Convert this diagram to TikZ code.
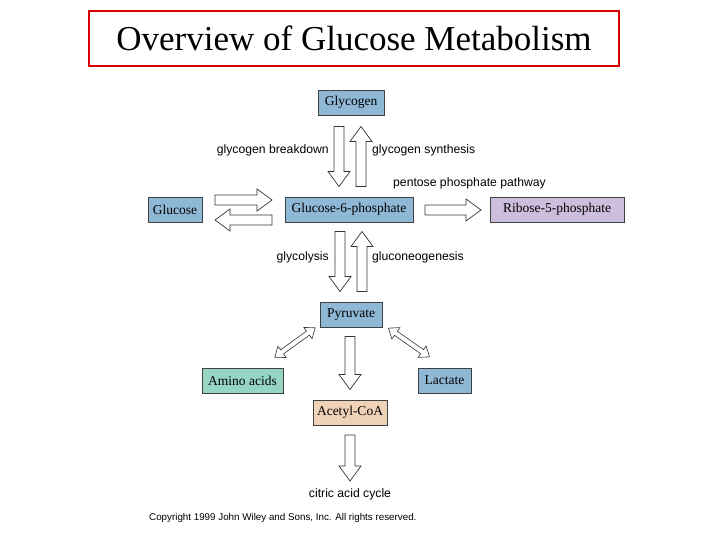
\documentclass[tikz,border=0pt]{standalone}
\usepackage{fontspec}
\setmainfont{Liberation Serif}
\setsansfont{Liberation Sans}
\definecolor{bl}{RGB}{143,184,214}
\definecolor{vi}{RGB}{205,190,222}
\definecolor{gr}{RGB}{150,212,196}
\definecolor{pe}{RGB}{240,210,185}
\tikzset{
 box/.style={draw=black!75,line width=0.8pt,minimum height=25pt,inner sep=0pt,font=\fontsize{13.5}{15}\selectfont},
 arr/.style={draw=black!80,fill=white,line width=0.7pt,line join=miter},
 lab/.style={font=\sffamily\fontsize{12.2}{14}\selectfont,inner sep=0pt}
}
% single block arrow: centre x, centre y, angle, length
\newcommand\barr[4]{\draw[arr,shift={(#1,#2)},rotate=#3]
 ({-#4/2},-5) -- ({#4/2-15},-5) -- ({#4/2-15},-11) -- ({#4/2},0) -- ({#4/2-15},11) -- ({#4/2-15},5) -- ({-#4/2},5) -- cycle;}
\newcommand\darr[4]{\draw[arr,line width=0.6pt,shift={(#1,#2)},rotate=#3]
 ({-#4/2},0) -- ({-#4/2+9},-7) -- ({-#4/2+9},-2.5) -- ({#4/2-9},-2.5) -- ({#4/2-9},-7) -- ({#4/2},0) -- ({#4/2-9},7) -- ({#4/2-9},2.5) -- ({-#4/2+9},2.5) -- ({-#4/2+9},7) -- cycle;}
\begin{document}
\begin{tikzpicture}[x=1pt,y=-1pt]
\useasboundingbox (0,0) rectangle (720,540);
\node[draw=red!85!black,line width=2.2pt,minimum width=530pt,minimum height=55pt,font=\fontsize{35}{40}\selectfont] (title) at (354,38.5) {Overview of Glucose Metabolism};
\node[box,fill=bl,minimum width=66pt] (gly) at (351,102.5) {Glycogen};
\node[box,fill=bl,minimum width=54pt] (glc) at (175,209.5) {Glucose};
\node[box,fill=bl,minimum width=128pt] (g6p) at (349,209.5) {Glucose-6-phosphate};
\node[box,fill=vi,minimum width=134pt] (r5p) at (557,209.5) {Ribose-5-phosphate};
\node[box,fill=bl,minimum width=62pt] (pyr) at (351,314.5) {Pyruvate};
\node[box,fill=gr,minimum width=81pt] (ami) at (242.5,380.5) {Amino acids};
\node[box,fill=bl,minimum width=53pt] (lac) at (444.5,380.5) {Lactate};
\node[box,fill=pe,minimum width=74pt] (aco) at (350,412.5) {Acetyl-CoA};
% block arrows
\barr{339}{156.5}{-90}{60}
\barr{361}{156.5}{90}{60}
\barr{243.5}{200}{0}{57}
\barr{243.5}{220}{180}{57}
\barr{453}{210}{0}{56}
\barr{340}{261.5}{-90}{60}
\barr{362}{261.5}{90}{60}
\barr{350}{363}{-90}{53}
\barr{350}{458}{-90}{46}
\darr{295}{342.5}{36}{50}
\darr{409}{342.5}{-35}{50}
% labels
\node[lab,anchor=east] (l1) at (329,150) {glycogen breakdown};
\node[lab,anchor=west] (l2) at (372,150) {glycogen synthesis};
\node[lab,anchor=west] (l3) at (393,183) {pentose phosphate pathway};
\node[lab,anchor=east] (l4) at (329,257) {glycolysis};
\node[lab,anchor=west] (l5) at (372,257) {gluconeogenesis};
\node[lab] (l6) at (350,494) {citric acid cycle};
\node[lab,anchor=west,font=\sffamily\fontsize{9.8}{11}\selectfont] (cp) at (149,518) {Copyright 1999 John Wiley and Sons, Inc. All rights reserved.};
\end{tikzpicture}
\end{document}
